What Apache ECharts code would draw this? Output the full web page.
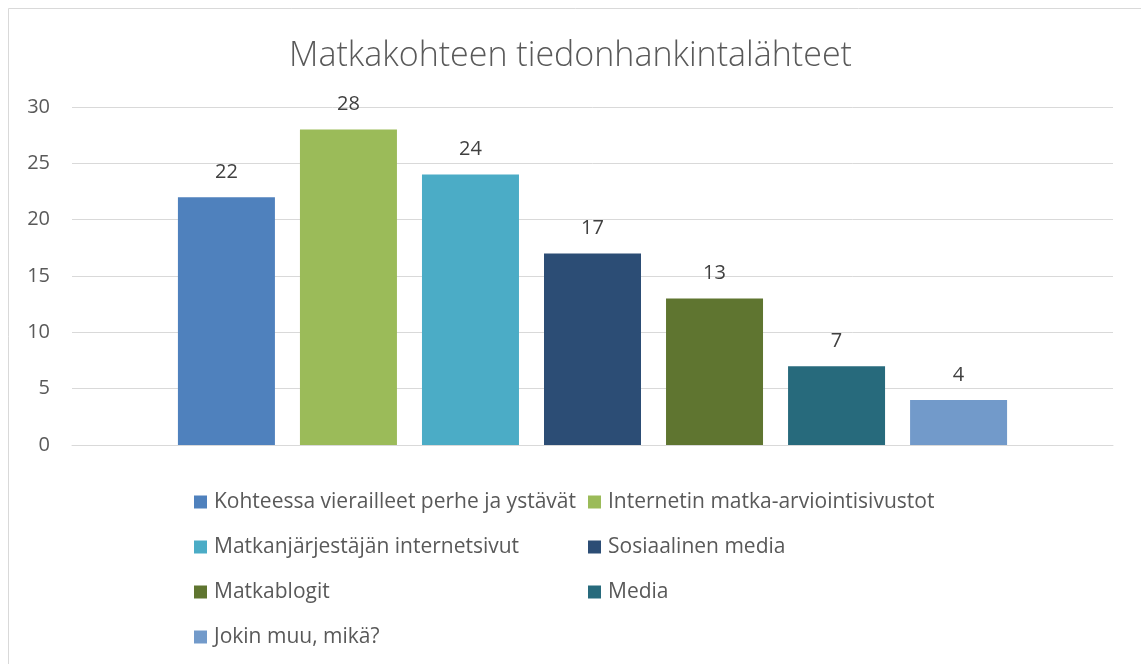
<!DOCTYPE html>
<html>
<head>
<meta charset="utf-8">
<style>
  html, body { margin: 0; padding: 0; background: #fff; }
  #chart { width: 1141px; height: 664px; }
</style>
<script src="https://cdn.jsdelivr.net/npm/echarts@6/dist/echarts.min.js"></script>
</head>
<body>
<div id="chart"></div>
<script>
// Data
const CATEGORIES = [''];
const SERIES_NAMES = [
  'Kohteessa vierailleet perhe ja ystävät',
  'Internetin matka-arviointisivustot',
  'Matkanjärjestäjän internetsivut',
  'Sosiaalinen media',
  'Matkablogit',
  'Media',
  'Jokin muu, mikä?'
];
const SERIES_VALUES = [22, 28, 24, 17, 13, 7, 4];
const Y_TICKS = [0, 5, 10, 15, 20, 25, 30];

const COLORS = ['#4F81BD', '#9BBB59', '#4BACC6', '#2C4D75', '#5F7530', '#276A7C', '#729ACA'];
const FONT = '"Open Sans", "Noto Sans", sans-serif';
const TEXT_GRAY = '#595959';

const chart = echarts.init(document.getElementById('chart'));

// one series per source, all in the single category
const series = SERIES_NAMES.map((name, i) => ({
  name: name,
  type: 'bar',
  data: [SERIES_VALUES[i]],
  barWidth: 97,
  barGap: '25.8%',
  itemStyle: { color: COLORS[i] },
  label: {
    show: true,
    position: 'top',
    distance: 15,
    fontFamily: FONT,
    fontSize: 20,
    color: '#404040'
  }
}));

// legend in two columns, like the Excel one
const legendBase = {
  orient: 'vertical',
  icon: 'rect',
  padding: 0,
  itemWidth: 13,
  itemHeight: 13,
  itemGap: 21,
  selectedMode: false,
  textStyle: { fontFamily: FONT, fontSize: 21, color: TEXT_GRAY, lineHeight: 24, padding: [0, 0, 0, 2] },
  top: 490
};

chart.setOption({
  backgroundColor: '#fff',
  animation: false,
  color: COLORS,
  title: {
    text: 'Matkakohteen tiedonhankintalähteet',
    left: 'center',
    top: 34,
    textStyle: { fontFamily: FONT, fontSize: 34, fontWeight: 300, color: TEXT_GRAY }
  },
  legend: [
    Object.assign({}, legendBase, { left: 194, data: [SERIES_NAMES[0], SERIES_NAMES[2], SERIES_NAMES[4], SERIES_NAMES[6]] }),
    Object.assign({}, legendBase, { left: 588, data: [SERIES_NAMES[1], SERIES_NAMES[3], SERIES_NAMES[5]] })
  ],
  grid: { left: 72, right: 28, top: 107, bottom: 219 },
  xAxis: {
    type: 'category',
    data: CATEGORIES,
    axisLine: { show: true, lineStyle: { color: '#d9d9d9', width: 1 } },
    axisTick: { show: false },
    axisLabel: { show: false }
  },
  yAxis: {
    type: 'value',
    min: Y_TICKS[0],
    max: Y_TICKS[Y_TICKS.length - 1],
    interval: 5,
    axisLine: { show: false },
    axisTick: { show: false },
    axisLabel: { fontFamily: FONT, fontSize: 20, color: TEXT_GRAY, margin: 22 },
    splitLine: { lineStyle: { color: '#d9d9d9', width: 1 } }
  },
  // chart border (left and top edges show in the crop)
  graphic: [{
    type: 'rect',
    shape: { x: 8.5, y: 8.5, width: 1200, height: 700 },
    style: { fill: 'none', stroke: '#d9d9d9', lineWidth: 1 },
    silent: true
  }],
  series: series
});
</script>
</body>
</html>
